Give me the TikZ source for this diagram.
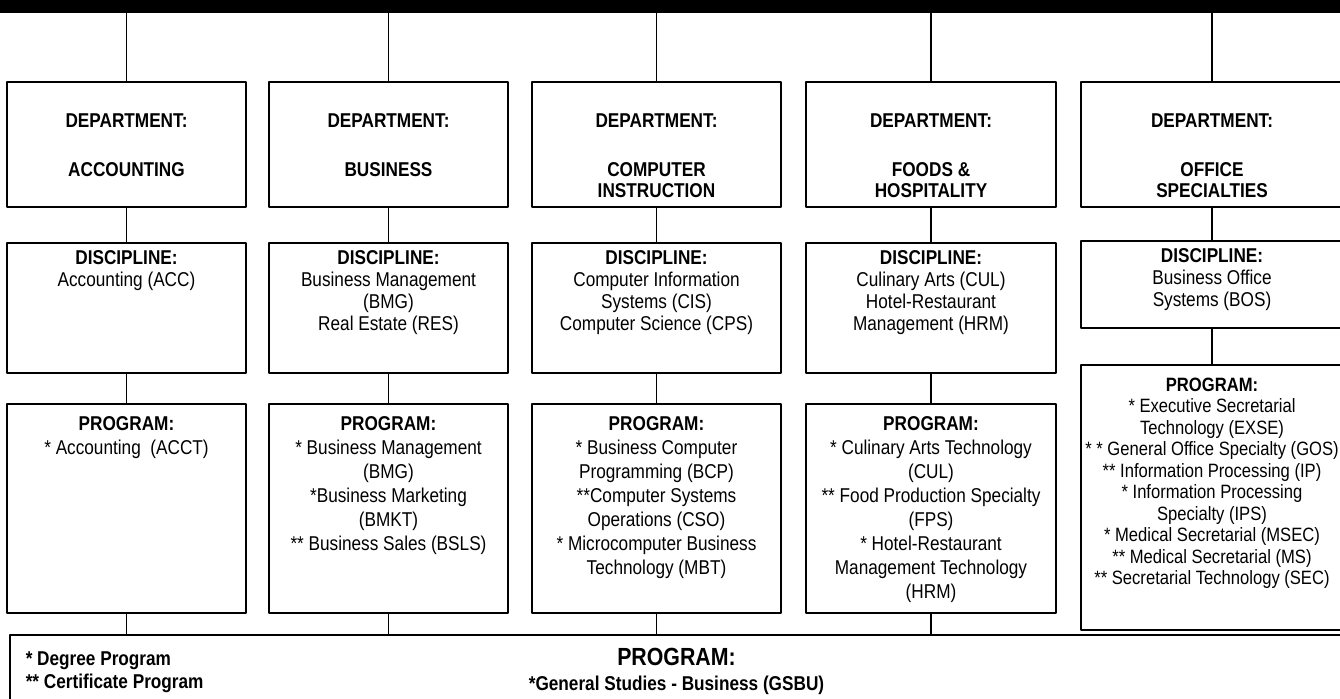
\documentclass[tikz,border=0pt]{standalone}
\usepackage{fontspec}
\setmainfont{Liberation Sans}[FakeStretch=0.86]
\usetikzlibrary{fit,positioning}
\newcommand{\chartfont}{\fontsize{10}{12}\selectfont}
\tikzset{
  chart box/.style={draw,line width=.65pt,inner sep=0pt},
  chart link/.style={line width=.65pt},
  chart text/.style={align=center,inner sep=0pt,font=\chartfont},
  dept text/.style={align=center,inner sep=0pt,font=\fontsize{10}{10.5}\selectfont\bfseries},
  disc text/.style={align=center,inner sep=0pt,font=\fontsize{10}{11}\selectfont},
  small text/.style={align=center,inner sep=0pt,font=\fontsize{9.65}{10.75}\selectfont}
}

\begin{document}
\begin{tikzpicture}[x=.5pt,y=-.5pt,line cap=round,line join=round]
  \clip (0,0) rectangle (1340,698);
  \node (bar) [fill=black,inner sep=0pt,fit={(0,0) (1340,13)}] {};

  % departments
  \node (dep1) [chart box,fit={(7,82) (246,207)}] {};
  \node (dep2) [chart box,fit={(269,82) (508,207)}] {};
  \node (dep3) [chart box,fit={(532,82) (781,207)}] {};
  \node (dep4) [chart box,fit={(806,82) (1056,207)}] {};
  \node (dep5) [chart box,fit={(1081,82) (1343,207)}] {};

  % disciplines
  \node (dis1) [chart box,fit={(7,243) (246,373)}] {};
  \node (dis2) [chart box,fit={(269,243) (508,373)}] {};
  \node (dis3) [chart box,fit={(532,243) (781,373)}] {};
  \node (dis4) [chart box,fit={(806,243) (1056,373)}] {};
  \node (dis5) [chart box,fit={(1081,241) (1343,328)}] {};

  % programs
  \node (prog1) [chart box,fit={(7,404) (246,613)}] {};
  \node (prog2) [chart box,fit={(269,404) (508,613)}] {};
  \node (prog3) [chart box,fit={(532,404) (781,613)}] {};
  \node (prog4) [chart box,fit={(806,404) (1056,613)}] {};
  \node (prog5) [chart box,fit={(1081,365) (1343,630)}] {};

  \node (base) [chart box,fit={(10,635) (1343,720)}] {};

  \foreach \i in {1,...,5} {
    \draw[chart link] (bar.south -| dep\i.north) -- (dep\i.north);
    \draw[chart link] (dep\i) -- (dis\i);
    \draw[chart link] (dis\i) -- (prog\i);
  }
  \foreach \i in {1,...,4} {\draw[chart link] (prog\i) -- (base.north -| prog\i);}

  \node (dep1t) [dept text,below=16pt] at (dep1.north) {DEPARTMENT:\\[14pt]ACCOUNTING};
  \node (dep2t) [dept text,below=16pt] at (dep2.north) {DEPARTMENT:\\[14pt]BUSINESS};
  \node (dep3t) [dept text,below=16pt] at (dep3.north) {DEPARTMENT:\\[14pt]COMPUTER\\INSTRUCTION};
  \node (dep4t) [dept text,below=16pt] at (dep4.north) {DEPARTMENT:\\[14pt]FOODS \&\\HOSPITALITY};
  \node (dep5t) [dept text,below=16pt] at (dep5.north) {DEPARTMENT:\\[14pt]OFFICE\\SPECIALTIES};

  \node (dis1t) [disc text,below=4pt] at (dis1.north) {\textbf{DISCIPLINE:}\\Accounting (ACC)};
  \node (dis2t) [disc text,below=4pt] at (dis2.north) {\textbf{DISCIPLINE:}\\Business Management\\(BMG)\\Real Estate (RES)};
  \node (dis3t) [disc text,below=4pt] at (dis3.north) {\textbf{DISCIPLINE:}\\Computer Information\\Systems (CIS)\\Computer Science (CPS)};
  \node (dis4t) [disc text,below=4pt] at (dis4.north) {\textbf{DISCIPLINE:}\\Culinary Arts (CUL)\\Hotel-Restaurant\\Management (HRM)};
  \node (dis5t) [disc text,below=4pt] at (dis5.north) {\textbf{DISCIPLINE:}\\Business Office\\Systems (BOS)};

  \node (prog1t) [chart text,below=6.5pt] at (prog1.north) {\textbf{PROGRAM:}\\* Accounting\ \ (ACCT)};
  \node (prog2t) [chart text,below=6.5pt] at (prog2.north) {\textbf{PROGRAM:}\\* Business Management\\(BMG)\\*Business Marketing\\(BMKT)\\** Business Sales (BSLS)};
  \node (prog3t) [chart text,below=6.5pt] at (prog3.north) {\textbf{PROGRAM:}\\* Business Computer\\Programming (BCP)\\**Computer Systems\\Operations (CSO)\\* Microcomputer Business\\Technology (MBT)};
  \node (prog4t) [chart text,below=6.5pt] at (prog4.north) {\textbf{PROGRAM:}\\* Culinary Arts Technology\\(CUL)\\** Food Production Specialty\\(FPS)\\* Hotel-Restaurant\\Management Technology\\(HRM)};
  \node (prog5t) [small text,below=6.5pt] at (prog5.north) {\textbf{PROGRAM:}\\* Executive Secretarial\\Technology (EXSE)\\* * General Office Specialty (GOS)\\** Information Processing (IP)\\* Information Processing\\Specialty (IPS)\\* Medical Secretarial (MSEC)\\** Medical Secretarial (MS)\\** Secretarial Technology (SEC)};

  \node (key) [chart text,align=left,font=\fontsize{10}{11.5}\selectfont\bfseries,below right=8.5pt and 8pt] at (base.north west) {* Degree Program\\** Certificate Program};
  \node (basehead) [chart text,font=\fontsize{12.4}{13}\selectfont\bfseries,below=6.5pt] at (base.north) {PROGRAM:};
  \node (basesub) [chart text,font=\chartfont\bfseries,below=5pt of basehead] {*General Studies - Business (GSBU)};
\end{tikzpicture}
\end{document}
